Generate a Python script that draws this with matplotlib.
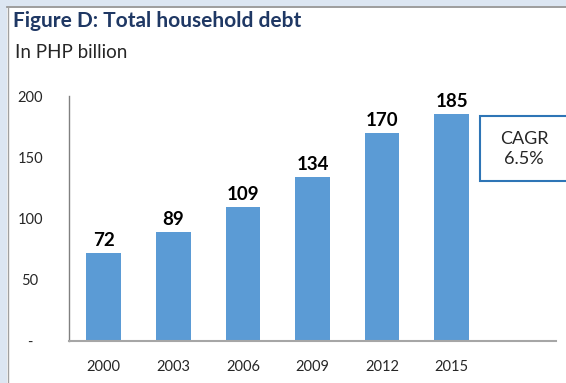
import numpy as np
import matplotlib.pyplot as plt
from matplotlib.patches import Rectangle

years = ['2000', '2003', '2006', '2009', '2012', '2015']
debt = [72, 89, 109, 134, 170, 185]
yticks = [0, 50, 100, 150, 200]
ytick_labels = ['-', '50', '100', '150', '200']

plt.rcParams['font.family'] = ['Lato', 'DejaVu Sans']

fig = plt.figure(figsize=(5.66, 3.83), dpi=100)
fig.patch.set_facecolor('white')

# window frame: pale blue strip on top and left with a grey edge
fig.patches.append(Rectangle((0, 1 - 6 / 383), 1, 6 / 383, transform=fig.transFigure,
                             facecolor='#dce6f2', edgecolor='none', zorder=0))
fig.patches.append(Rectangle((0, 0), 7 / 566, 1, transform=fig.transFigure,
                             facecolor='#dce6f2', edgecolor='none', zorder=0))
fig.add_artist(plt.Line2D([7 / 566, 1], [1 - 7 / 383, 1 - 7 / 383], transform=fig.transFigure,
                          color='#8c8c8c', lw=1.2))
fig.add_artist(plt.Line2D([7.5 / 566, 7.5 / 566], [0, 1 - 7 / 383], transform=fig.transFigure,
                          color='#a0a0a0', lw=1.0))

fig.text(13 / 566, 1 - 21 / 383, 'Figure D: Total household debt', fontsize=15,
         fontweight='bold', color='#1f3864', va='center', ha='left')
fig.text(15 / 566, 1 - 52 / 383, 'In PHP billion', fontsize=13.5, color='#262626',
         va='center', ha='left')

ax = fig.add_axes([69 / 566, 1 - 341 / 383, (556 - 69) / 566, (341 - 96) / 383])
x = np.arange(len(years))
bars = ax.bar(x, debt, width=0.5, color='#5b9bd5', zorder=2)
for xi, v in zip(x, debt):
    ax.annotate(str(v), (xi, v), xytext=(0, 3), textcoords='offset points',
                ha='center', va='bottom', fontsize=13.5, fontweight='bold',
                color='black')

ax.set_xlim(-0.5, 6.5)
ax.set_ylim(0, 200)
ax.set_xticks(x)
ax.set_xticklabels(years, fontsize=10.5, color='#262626')
ax.set_yticks(yticks)
ax.set_yticklabels(ytick_labels, fontsize=10.5, color='#262626')
ax.tick_params(length=0, pad=14)
ax.tick_params(axis='y', pad=28)
for lab in ax.get_yticklabels():
    lab.set_horizontalalignment('center')
for side in ['top', 'right']:
    ax.spines[side].set_visible(False)
ax.spines['left'].set_color('#808080')
ax.spines['bottom'].set_color('#a6a6a6')
ax.spines['left'].set_linewidth(1)
ax.spines['bottom'].set_linewidth(1.5)

# CAGR callout box running off the right edge
fig.patches.append(Rectangle((480 / 566, 1 - 181 / 383), 100 / 566, 65 / 383,
                             transform=fig.transFigure, facecolor='white',
                             edgecolor='#2e75b6', lw=1.5, zorder=3))
fig.text(524 / 566, 1 - 149 / 383, 'CAGR\n6.5%', fontsize=13, color='#262626',
         ha='center', va='center', linespacing=1.25, zorder=4)

fig.savefig('out.png', dpi=100)
